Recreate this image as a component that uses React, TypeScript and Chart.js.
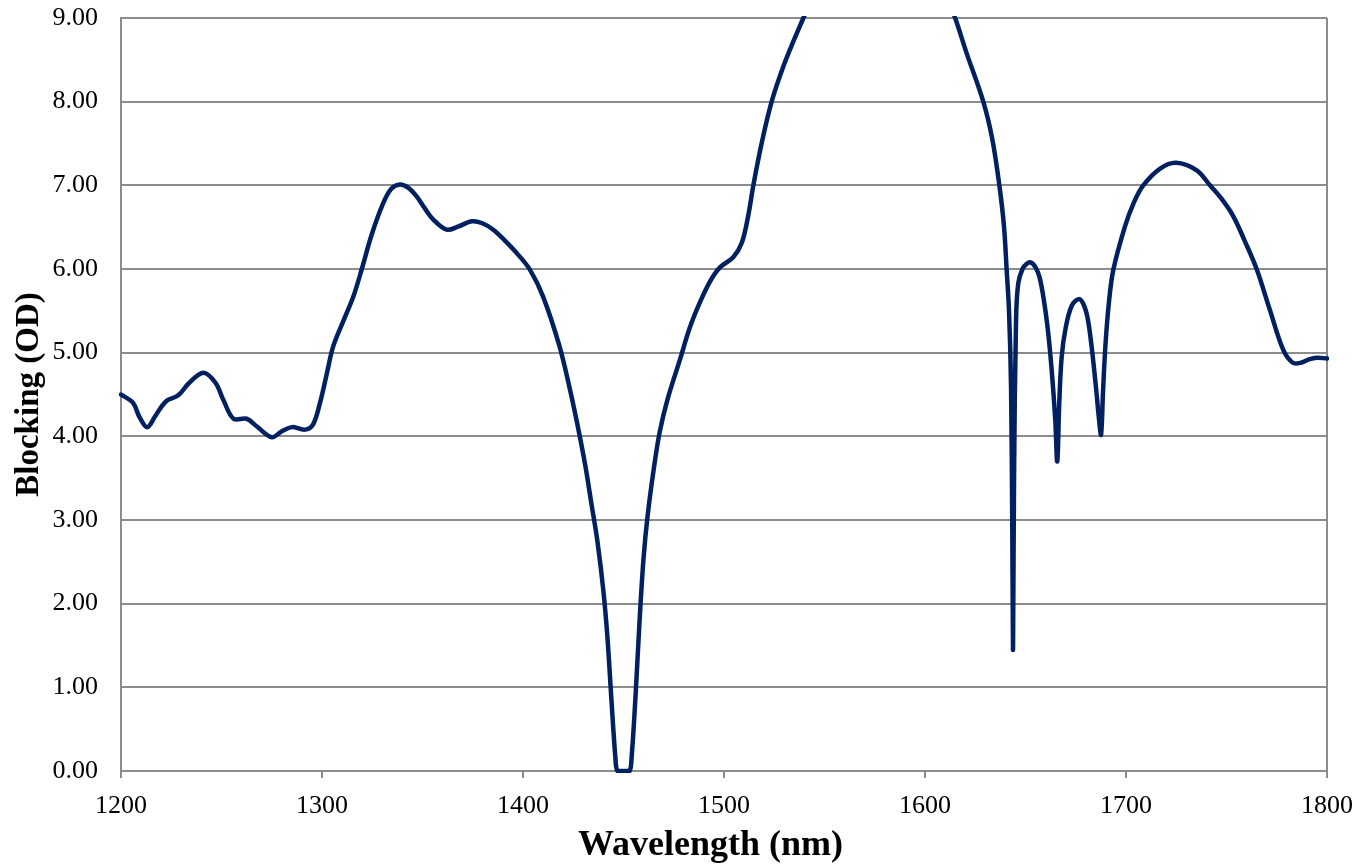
import React, { useEffect, useRef } from "react";
import { Chart, registerables } from "chart.js";

Chart.register(...registerables);

const wavelengths = [
  1200, 1206, 1209, 1213, 1217, 1220, 1223, 1228.5, 1234, 1241, 1247, 1251, 1256, 1262.5, 1267.5, 1275, 1280, 1285, 1291.5, 1295.5, 1299, 1302.5, 1305.5,
  1311, 1315.6, 1319.8, 1324.7, 1330.5, 1334.5, 1338.8, 1343, 1347, 1351, 1355.4, 1362, 1368, 1374.5, 1379.5, 1385.2, 1391, 1396.9, 1403.5, 1410, 1418, 1423, 1427, 1431,
  1434, 1437, 1440, 1442, 1444, 1446, 1447, 1450, 1453, 1454, 1456, 1458, 1460, 1462, 1465, 1468, 1472, 1478, 1483, 1488, 1493, 1498, 1504.6, 1508.8, 1512,
  1514.6, 1518.7, 1523.7, 1529.5, 1534.5, 1539.5, 1550, 1560, 1578, 1595, 1607, 1615, 1620.7, 1629, 1633.5, 1637, 1639.3, 1640.6, 1641.8, 1642.8, 1643.4, 1643.8, 1644.3,
  1645.3, 1646.4, 1648.5, 1650.5, 1652.5, 1655, 1657, 1659, 1661, 1663, 1664.8, 1665.8, 1666.8, 1668, 1670, 1673, 1676.5, 1679, 1681, 1683, 1685, 1686.6, 1687.6,
  1688.6, 1689.8, 1691.5, 1693.7, 1699.5, 1704, 1708.6, 1717, 1724.9, 1735.2, 1741.8, 1747.5, 1753.4, 1759, 1765, 1771.6, 1778.3, 1783, 1787, 1791, 1795, 1800,
];

const blocking = [
  4.5, 4.4, 4.24, 4.11, 4.24, 4.35, 4.43, 4.49, 4.64, 4.76, 4.64, 4.43, 4.21, 4.21, 4.12, 3.99, 4.06, 4.11, 4.08, 4.14, 4.4, 4.76, 5.07,
  5.4, 5.67, 6.0, 6.41, 6.79, 6.96, 7.01, 6.97, 6.87, 6.73, 6.59, 6.47, 6.51, 6.57, 6.55, 6.47, 6.34, 6.19, 5.99, 5.67, 5.09, 4.6, 4.15, 3.65,
  3.2, 2.75, 2.15, 1.6, 0.85, 0.15, 0.0, 0.0, 0.0, 0.15, 0.9, 1.8, 2.55, 3.05, 3.6, 4.05, 4.45, 4.91, 5.3, 5.6, 5.85, 6.02, 6.14, 6.31, 6.63,
  7.0, 7.5, 8.0, 8.42, 8.72, 9.0, 9.6, 10.0, 10.2, 10.0, 9.5, 9.0, 8.58, 8.0, 7.55, 7.0, 6.51, 6.0, 5.5, 4.6, 3.0, 1.45, 3.5,
  5.4, 5.83, 6.0, 6.06, 6.08, 6.02, 5.9, 5.65, 5.3, 4.8, 4.2, 3.7, 4.4, 4.95, 5.3, 5.56, 5.64, 5.57, 5.4, 5.05, 4.6, 4.2, 4.02,
  4.55, 5.1, 5.6, 5.99, 6.51, 6.8, 7.0, 7.2, 7.27, 7.18, 7.0, 6.84, 6.63, 6.34, 6.0, 5.51, 5.03, 4.88, 4.88, 4.92, 4.94, 4.93,
];

const xTicks = [1200, 1300, 1400, 1500, 1600, 1700, 1800];
const yTicks = [0, 1, 2, 3, 4, 5, 6, 7, 8, 9];

const FONT = "'Liberation Serif', 'Times New Roman', serif";
const GRID = "#8c8c8c";

export default function App() {
  const ref = useRef<HTMLCanvasElement | null>(null);

  useEffect(() => {
    if (!ref.current) return;
    const points = wavelengths.map((x, i) => ({ x, y: blocking[i] }));
    const chart = new Chart(ref.current, {
      type: "line",
      data: {
        datasets: [
          {
            data: points,
            borderColor: "rgb(0,32,96)",
            borderWidth: 4.5,
            pointRadius: 0,
            tension: 0.35,
            borderCapStyle: "round",
            borderJoinStyle: "round",
            fill: false,
            clip: 2,
          } as any,
        ],
      },
      options: {
        animation: false,
        responsive: false,
        devicePixelRatio: 1,
        layout: { padding: { left: 0, right: 31, top: 18, bottom: 0 } },
        plugins: { legend: { display: false }, tooltip: { enabled: false } },
        scales: {
          x: {
            type: "linear",
            min: 1200,
            max: 1800,
            afterBuildTicks: (scale: any) => {
              scale.ticks = xTicks.map((v) => ({ value: v }));
            },
            afterFit: (scale: any) => {
              scale.height = 93;
              scale.paddingLeft = 0;
              scale.paddingRight = 0;
            },
            ticks: {
              font: { family: FONT, size: 26 },
              color: "#000",
              padding: 13,
              maxRotation: 0,
              callback: (v: any) => String(v),
            },
            grid: {
              color: (ctx: any) => (ctx.tick && ctx.tick.value === 1800 ? GRID : "rgba(0,0,0,0)"),
              tickColor: GRID,
              tickLength: 7,
              lineWidth: 2,
              drawTicks: true,
            },
            border: { display: true, color: GRID, width: 2 },
            title: {
              display: true,
              text: "Wavelength (nm)   ",
              font: { family: FONT, size: 36, weight: "bold" },
              color: "#000",
              padding: { top: 9, bottom: -3 },
            },
          },
          y: {
            type: "linear",
            min: 0,
            max: 9,
            afterBuildTicks: (scale: any) => {
              scale.ticks = yTicks.map((v) => ({ value: v }));
            },
            afterFit: (scale: any) => {
              scale.width = 121;
              scale.paddingTop = 0;
              scale.paddingBottom = 0;
            },
            ticks: {
              font: { family: FONT, size: 26 },
              color: "#000",
              padding: 23,
              callback: (v: any) => Number(v).toFixed(2),
            },
            grid: {
              color: GRID,
              lineWidth: 2,
              drawTicks: false,
            },
            border: { display: true, color: GRID, width: 2 },
            title: {
              display: true,
              text: "Blocking (OD)",
              font: { family: FONT, size: 33, weight: "bold" },
              color: "#000",
              padding: { top: 10, bottom: 0 },
            },
          },
        },
      },
    });
    return () => chart.destroy();
  }, []);

  return (
    <div style={{ position: "fixed", left: 0, top: 0, width: 1358, height: 864, background: "#fff" }}>
      <canvas ref={ref} width={1358} height={864} style={{ display: "block" }} />
    </div>
  );
}
